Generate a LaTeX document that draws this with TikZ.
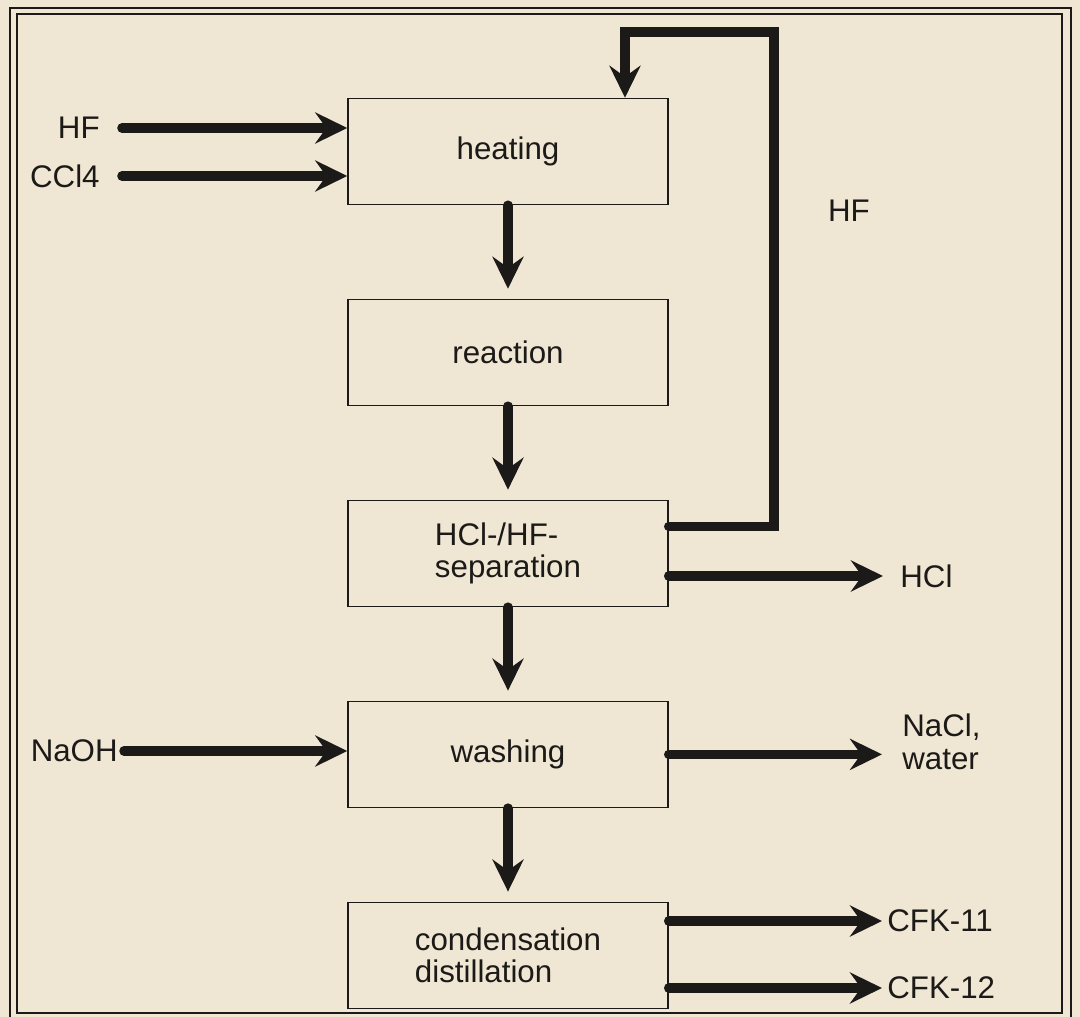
\documentclass[tikz,border=0pt]{standalone}
\usepackage{fontspec}
\setmainfont{Liberation Sans}
\usetikzlibrary{positioning, arrows.meta}
\definecolor{paper}{RGB}{239,231,211}
\definecolor{ink}{RGB}{28,26,24}

\begin{document}
\begin{tikzpicture}[
  x=0.02cm, y=-0.02cm,
  >={Stealth[length=0.64cm, width=0.62cm, inset=0.22cm]},
  every node/.style={font=\fontsize{17.8}{18.6}\selectfont, text=ink},
  stage/.style = {draw=ink, line width=0.03cm, fill=paper, align=left, minimum width=6.4cm, minimum height=2.12cm, inner sep=0pt},
  tag/.style   = {inner sep=0pt, align=left},
  flow/.style  = {->, draw=ink, line width=0.19cm, line cap=round},
  rim/.style   = {draw=ink, line width=0.04cm},
]
  % paper and double frame
  \fill[paper] (0,0) rectangle (1080,1017);
  \useasboundingbox (0,0) rectangle (1080,1017);
  \draw[rim] (10,8) rectangle (1071,1030);
  \draw[rim] (17,14) rectangle (1062,1013);

  % process column, top to bottom
  \node[stage]                       (heat)  at (508,151.5) {heating};
  \node[stage, below=1.87cm of heat]  (react) {reaction};
  \node[stage, below=1.87cm of react] (sep)   {HCl-/HF-\\separation};
  \node[stage, below=1.87cm of sep]   (wash)  {washing};
  \node[stage, below=1.87cm of wash]  (cond)  {condensation\\distillation};
  \foreach \a/\b in {heat/react, react/sep, sep/wash, wash/cond}
     \draw[flow, shorten >=0.2cm] (\a) -- (\b);

  % feeds
  \node[tag, anchor=east] (hfin)  at (100,128) {HF};
  \node[tag, anchor=east] (cclin) at (100,176) {CCl4};
  \node[tag, anchor=east] (naoh)  at (118,751) {NaOH};
  \draw[flow, shorten <=0.44cm] (hfin)  -- (hfin -| heat.west);
  \draw[flow, shorten <=0.44cm] (cclin) -- (cclin -| heat.west);
  \draw[flow, shorten <=0.12cm] (naoh)  -- (naoh -| wash.west);

  % HF recycle
  \coordinate (loop) at (774,32);
  \node[tag] (hfback) at (849,211) {HF};
  \draw[flow] ([yshift=0.54cm]sep.east) -| (loop) -| ([xshift=2.34cm]heat.north);

  % products
  \node[tag, anchor=west] (hcl)   at (900,576) {HCl};
  \node[tag, anchor=west] (nacl)  at (902,742) {NaCl,\\water};
  \node[tag, anchor=west] (cfk11) at (887,921) {CFK-11};
  \node[tag, anchor=west] (cfk12) at (887,988) {CFK-12};
  \draw[flow, shorten >=0.34cm] (hcl -| sep.east)     -- (hcl);
  \draw[flow, shorten >=0.40cm] (wash.east)           -- (wash.east -| nacl.west);
  \draw[flow, shorten >=0.10cm] (cfk11 -| cond.east)  -- (cfk11);
  \draw[flow, shorten >=0.10cm] (cfk12 -| cond.east)  -- (cfk12);
\end{tikzpicture}
\end{document}
